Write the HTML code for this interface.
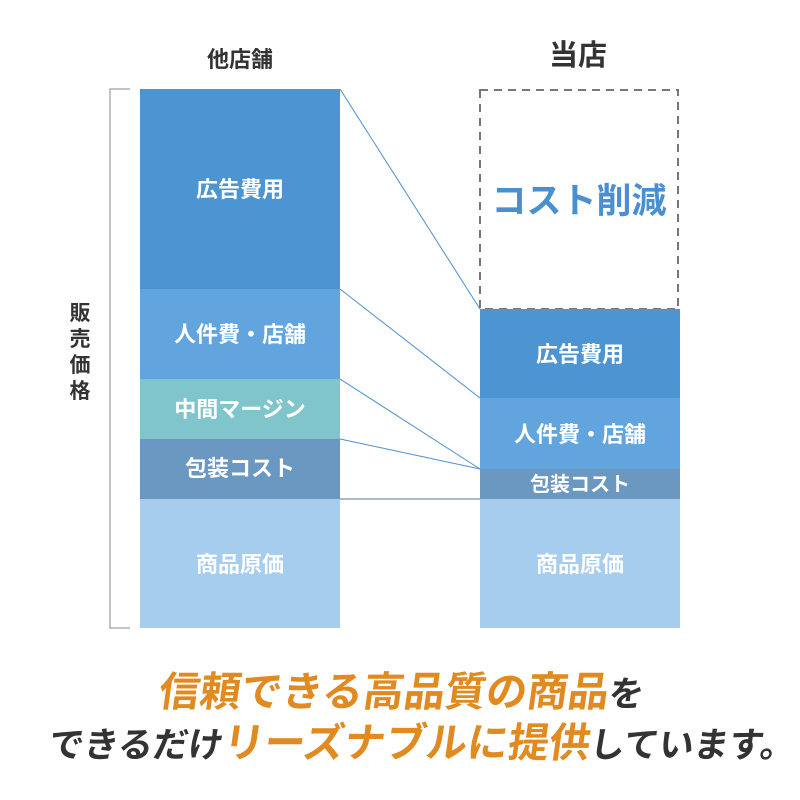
<!DOCTYPE html>
<html><head><meta charset="utf-8"><style>
html,body{margin:0;padding:0;background:#fff;width:800px;height:800px;overflow:hidden}
svg text{font-family:"Liberation Sans","Noto Sans CJK JP",sans-serif}
</style></head><body>
<svg width="800" height="800" viewBox="0 0 800 800" xmlns="http://www.w3.org/2000/svg">
<rect width="800" height="800" fill="#fff"/>
<rect x="140" y="89" width="200" height="200" fill="#4d95d2"/>
<rect x="140" y="289" width="200" height="90" fill="#62a5de"/>
<rect x="140" y="379" width="200" height="60" fill="#80c4cc"/>
<rect x="140" y="439" width="200" height="60" fill="#6b98c0"/>
<rect x="140" y="499" width="200" height="129" fill="#a7cdee"/>
<rect x="480" y="90" width="198" height="219" fill="none" stroke="#777" stroke-width="2" stroke-dasharray="8 6"/>
<rect x="480" y="309" width="200" height="89" fill="#4d95d2"/>
<rect x="480" y="398" width="200" height="71" fill="#62a5de"/>
<rect x="480" y="469" width="200" height="30" fill="#6b98c0"/>
<rect x="480" y="499" width="200" height="129" fill="#a7cdee"/>
<g stroke="#4d8fcc" stroke-width="1" fill="none">
<line x1="340" y1="89" x2="480" y2="309"/>
<line x1="340" y1="289" x2="480" y2="398"/>
<line x1="340" y1="379" x2="480" y2="469"/>
<line x1="340" y1="439" x2="480" y2="469"/>
<line x1="340" y1="499" x2="480" y2="499" stroke="#557799"/>
</g>
<path d="M130 89 H110 V628 H130" fill="none" stroke="#888" stroke-width="1"/>
<text x="240" y="67" font-size="22" fill="#333" text-anchor="middle" font-weight="bold">他店舗</text>
<text x="578" y="65" font-size="29" fill="#333" text-anchor="middle" font-weight="bold">当店</text>
<g font-size="21" fill="#333" text-anchor="middle" font-weight="bold">
<text x="80" y="320">販</text><text x="80" y="346">売</text><text x="80" y="372">価</text><text x="80" y="398">格</text>
</g>
<g font-size="22" fill="#fff" text-anchor="middle" font-weight="bold">
<text x="240" y="197">広告費用</text>
<text x="240" y="342">人件費・店舗</text>
<text x="240" y="417">中間マージン</text>
<text x="240" y="476">包装コスト</text>
<text x="240" y="572">商品原価</text>
<text x="580" y="362">広告費用</text>
<text x="580" y="442">人件費・店舗</text>
<text x="580" y="491" font-size="20">包装コスト</text>
<text x="580" y="572">商品原価</text>
</g>
<text x="579" y="213" font-size="35" fill="#4a8fd0" text-anchor="middle" font-weight="bold">コスト削減</text>
<g font-size="41" font-weight="bold" text-anchor="middle">
<text x="400" y="706" transform="skewX(-8) translate(99,0)"><tspan fill="#e08a20">信頼できる高品質の商品</tspan><tspan fill="#333" font-size="35">を</tspan></text>
<text x="400" y="757" transform="skewX(-8) translate(127,0)"><tspan fill="#333" font-size="35">できるだけ</tspan><tspan fill="#e08a20">リーズナブルに提供</tspan><tspan fill="#333" font-size="35">しています。</tspan></text>
</g>
</svg>
</body></html>
